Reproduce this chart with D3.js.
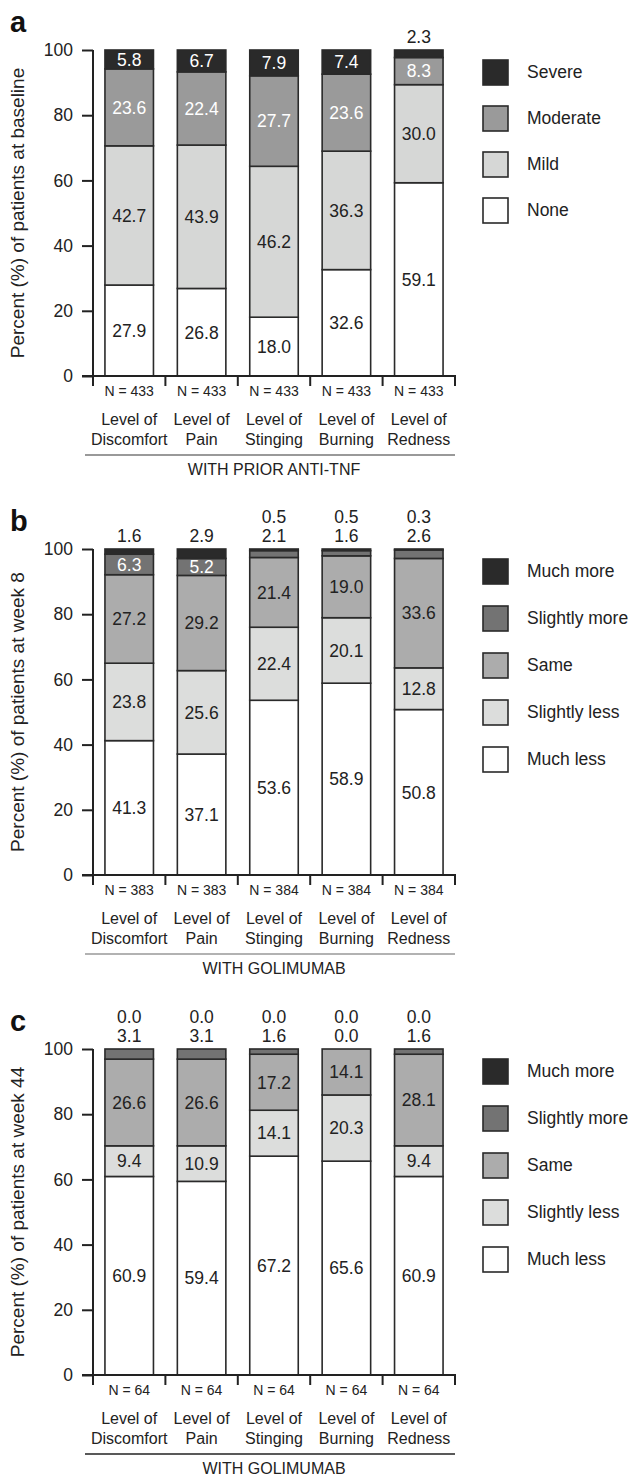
<!DOCTYPE html>
<html>
<head>
<meta charset="utf-8">
<script src="https://cdn.jsdelivr.net/npm/d3@7"></script>
<style>
  body { margin: 0; background: #fff; }
  svg { display: block; font-family: "Liberation Sans", Arial, sans-serif; }
</style>
</head>
<body>
<svg width="634" height="1479"></svg>
<script>
var categories = [['Level of', 'Discomfort'], ['Level of', 'Pain'], ['Level of', 'Stinging'], ['Level of', 'Burning'], ['Level of', 'Redness']]
var yTicks = [0, 20, 40, 60, 80, 100]

// panel a: severity at baseline
var severityKeys = ['None', 'Mild', 'Moderate', 'Severe']
var aNone = [27.9, 26.8, 18.0, 32.6, 59.1]
var aMild = [42.7, 43.9, 46.2, 36.3, 30.0]
var aModerate = [23.6, 22.4, 27.7, 23.6, 8.3]
var aSevere = [5.8, 6.7, 7.9, 7.4, 2.3]
var aN = [433, 433, 433, 433, 433]

// panels b, c: change vs before
var changeKeys = ['Much less', 'Slightly less', 'Same', 'Slightly more', 'Much more']
var bMuchLess = [41.3, 37.1, 53.6, 58.9, 50.8]
var bSlightlyLess = [23.8, 25.6, 22.4, 20.1, 12.8]
var bSame = [27.2, 29.2, 21.4, 19.0, 33.6]
var bSlightlyMore = [6.3, 5.2, 2.1, 1.6, 2.6]
var bMuchMore = [1.6, 2.9, 0.5, 0.5, 0.3]
var bN = [383, 383, 384, 384, 384]

var cMuchLess = [60.9, 59.4, 67.2, 65.6, 60.9]
var cSlightlyLess = [9.4, 10.9, 14.1, 20.3, 9.4]
var cSame = [26.6, 26.6, 17.2, 14.1, 28.1]
var cSlightlyMore = [3.1, 3.1, 1.6, 0.0, 1.6]
var cMuchMore = [0.0, 0.0, 0.0, 0.0, 0.0]
var cN = [64, 64, 64, 64, 64]

var ink = '#222'
var svg = d3.select('svg')

function rows (keys, cols) {
  return categories.map(function (c, i) {
    var r = {i: i}
    keys.forEach(function (k, j) { r[k] = cols[j][i] })
    return r
  })
}

var panels = [
  {letter: 'a', top: 50, keys: severityKeys, cols: [aNone, aMild, aModerate, aSevere], n: aN,
    colors: ['#ffffff', '#d6d7d6', '#9a9a9a', '#2a2a2a'], textColors: [ink, ink, '#fff', '#fff'],
    title: 'Percent (%) of patients at baseline', group: 'WITH PRIOR ANTI-TNF', groupLine: '#777', legendStep: 46},
  {letter: 'b', top: 549, keys: changeKeys, cols: [bMuchLess, bSlightlyLess, bSame, bSlightlyMore, bMuchMore], n: bN,
    colors: ['#ffffff', '#dcdddc', '#acacac', '#737373', '#2a2a2a'], textColors: [ink, ink, ink, '#fff', '#fff'],
    title: 'Percent (%) of patients at week 8', group: 'WITH GOLIMUMAB', groupLine: '#999', legendStep: 47},
  {letter: 'c', top: 1049, keys: changeKeys, cols: [cMuchLess, cSlightlyLess, cSame, cSlightlyMore, cMuchMore], n: cN,
    colors: ['#ffffff', '#dcdddc', '#acacac', '#737373', '#2a2a2a'], textColors: [ink, ink, ink, '#fff', '#fff'],
    title: 'Percent (%) of patients at week 44', group: 'WITH GOLIMUMAB', groupLine: '#222', legendStep: 47}
]

var x = d3.scaleBand()
  .domain(d3.range(categories.length))
  .range([93, 455])
  .paddingInner(0.33)
  .paddingOuter(0.165)

panels.forEach(function (p) {
  var g = svg.append('g')
  var y = d3.scaleLinear().domain([0, 100]).range([p.top + 326, p.top])
  var data = rows(p.keys, p.cols)
  var series = d3.stack().keys(p.keys).offset(d3.stackOffsetExpand)(data)
  var color = d3.scaleOrdinal().domain(p.keys).range(p.colors)
  var textColor = d3.scaleOrdinal().domain(p.keys).range(p.textColors)

  // panel letter
  g.append('text')
    .attr('x', 10).attr('y', p.top - 18)
    .style('font-size', '29px').style('font-weight', 'bold').attr('fill', '#111')
    .text(p.letter)

  // bars
  g.selectAll('g.s').data(series).enter().append('g')
    .attr('fill', function (s) { return color(s.key) })
    .selectAll('rect').data(function (s) { return s }).enter().append('rect')
    .attr('x', function (d) { return x(d.data.i) })
    .attr('width', x.bandwidth())
    .attr('y', function (d) { return y(d[1] * 100) })
    .attr('height', function (d) { return y(d[0] * 100) - y(d[1] * 100) })
    .attr('stroke', '#2a2a2a').attr('stroke-width', 1.6)

  // labels inside segments
  series.forEach(function (s) {
    g.selectAll(null).data(s.filter(function (d) { return d.data[s.key] >= 4 })).enter().append('text')
      .attr('x', function (d) { return x(d.data.i) + x.bandwidth() / 2 })
      .attr('y', function (d) { return y((d[0] + d[1]) * 50) })
      .attr('dy', '0.36em')
      .attr('text-anchor', 'middle')
      .style('font-size', '17.5px')
      .attr('fill', textColor(s.key))
      .text(function (d) { return d3.format('.1f')(d.data[s.key]) })
  })

  // small values stacked above the bar
  data.forEach(function (r) {
    var small = []
    for (var k = p.keys.length - 1; k >= 0; k--) {
      if (r[p.keys[k]] < 4) small.push(r[p.keys[k]])
      else break
    }
    small.forEach(function (v, j) {
      g.append('text')
        .attr('x', x(r.i) + x.bandwidth() / 2)
        .attr('y', y(100) - 7 - (small.length - 1 - j) * 19)
        .attr('text-anchor', 'middle')
        .style('font-size', '17.5px').attr('fill', ink)
        .text(d3.format('.1f')(v))
    })
  })

  // y axis
  var yAxis = g.append('g').attr('transform', 'translate(93,0)')
    .call(d3.axisLeft(y).tickValues(yTicks).tickSize(11).tickPadding(9))
  yAxis.select('.domain').attr('d', 'M0,' + y(100) + 'V' + y(0)).attr('stroke', ink).attr('stroke-width', 2)
  yAxis.selectAll('.tick line').attr('stroke', ink).attr('stroke-width', 2)
  yAxis.selectAll('.tick text').style('font-size', '17.5px').attr('fill', ink).attr('font-family', null)

  g.append('text')
    .attr('transform', 'translate(17,' + y(50) + ') rotate(-90)')
    .attr('dy', '0.35em').attr('text-anchor', 'middle')
    .style('font-size', '19px').attr('fill', ink)
    .text(p.title)

  // x axis with separators
  var y0 = y(0)
  g.append('line').attr('x1', 82).attr('x2', 456).attr('y1', y0).attr('y2', y0)
    .attr('stroke', ink).attr('stroke-width', 2)
  var seps = d3.range(categories.length + 1).map(function (i) { return i * x.step() + x.range()[0] })
  g.selectAll(null).data(seps).enter().append('line')
    .attr('x1', function (d) { return d }).attr('x2', function (d) { return d })
    .attr('y1', y0).attr('y2', y0 + 10)
    .attr('stroke', ink).attr('stroke-width', 2)

  g.selectAll(null).data(p.n).enter().append('text')
    .attr('x', function (d, i) { return x(i) + x.bandwidth() / 2 })
    .attr('y', y0 + 20)
    .attr('text-anchor', 'middle')
    .style('font-size', '14px').attr('fill', ink)
    .text(function (d) { return 'N = ' + d })

  var cat = g.selectAll(null).data(categories).enter().append('text')
    .attr('text-anchor', 'middle')
    .style('font-size', '16px').attr('fill', ink)
  cat.append('tspan')
    .attr('x', function (d, i) { return x(i) + x.bandwidth() / 2 })
    .attr('y', y0 + 48.5)
    .text(function (d) { return d[0] })
  cat.append('tspan')
    .attr('x', function (d, i) { return x(i) + x.bandwidth() / 2 })
    .attr('y', y0 + 68.5)
    .text(function (d) { return d[1] })

  g.append('line').attr('x1', 85).attr('x2', 455).attr('y1', y0 + 79).attr('y2', y0 + 79)
    .attr('stroke', p.groupLine).attr('stroke-width', 1.6)
  g.append('text')
    .attr('x', 274).attr('y', y0 + 99)
    .attr('text-anchor', 'middle')
    .style('font-size', '16px').attr('fill', ink)
    .text(p.group)

  // legend
  var legend = g.selectAll('g.lg').data(p.keys.slice().reverse()).enter().append('g')
    .attr('transform', function (d, i) { return 'translate(483,' + (p.top + 22 + i * p.legendStep) + ')' })
  legend.append('rect')
    .attr('x', 0).attr('y', -12).attr('width', 25).attr('height', 25)
    .attr('fill', function (d) { return color(d) })
    .attr('stroke', '#2a2a2a').attr('stroke-width', 1.6)
  legend.append('text')
    .attr('x', 44).attr('dy', '0.36em')
    .style('font-size', '17.5px').attr('fill', ink)
    .text(function (d) { return d })
})
</script>
</body>
</html>
